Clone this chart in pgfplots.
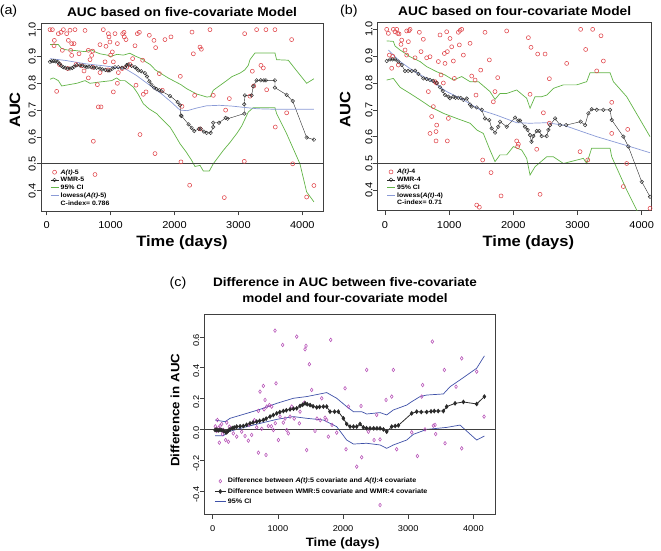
\documentclass[border=0pt]{standalone}
\usepackage{fontspec}
\setmainfont{Liberation Sans}[FakeStretch=1.1]
\usepackage{pgfplots}
\pgfplotsset{compat=1.18}
\definecolor{ptred}{HTML}{E0474C}
\definecolor{cigreen}{HTML}{62B447}
\definecolor{lowblue}{HTML}{8A9AD6}
\definecolor{dmag}{HTML}{B650B6}
\definecolor{ciblue}{HTML}{3F51A8}
\definecolor{frm}{HTML}{404040}
\definecolor{wmr}{HTML}{2A2A2A}
\pgfplotsset{
  rstyle/.style={
    scale only axis, clip=true,
    axis line style={frm, line width=0.7pt},
    tick style={frm, line width=0.6pt},
    tick align=outside, major tick length=4.5pt,
    xtick pos=left, ytick pos=left,
    /pgf/number format/assume math mode=true,
    /pgf/number format/set thousands separator={},
    yticklabel style={rotate=90, anchor=south, inner sep=0.5pt,
      /pgf/number format/fixed, /pgf/number format/fixed zerofill, /pgf/number format/precision=1},
    xticklabel style={anchor=north, inner sep=0pt, yshift=-6pt},
    legend cell align=left,
    legend image code/.code={\draw[mark repeat=2,mark phase=2] plot coordinates {(0pt,0pt)(4pt,0pt)(8pt,0pt)};},
  },
  aucstyle/.style={
    rstyle, width=282pt, height=188pt,
    xmin=-89, xmax=4324, ymin=0.324, ymax=1.0248,
    xtick={0,1000,2000,3000,4000},
    ytick={0.4,0.5,0.6,0.7,0.8,0.9,1.0},
    ticklabel style={font=\fontsize{10}{12}\selectfont},
    title style={at={(0.5,1)}, anchor=center, yshift=5.2pt, font=\fontsize{12.5}{14}\selectfont\bfseries},
    label style={font=\fontsize{15}{17}\selectfont\bfseries},
    xlabel={Time (days)}, ylabel={AUC},
    xlabel style={at={(axis description cs:0.5,-0.170)}, anchor=center},
    ylabel style={at={(axis description cs:-0.0922,0.537)}, anchor=center},
    legend style={at={(axis description cs:0.032,0.228)}, anchor=north west, draw=none, fill=none,
      inner sep=0pt, row sep=0pt, column sep=1pt, font=\fontsize{6.3}{7}\selectfont\bfseries,
      nodes={inner sep=0.8pt, text height=4.9pt, text depth=1.3pt}},
  },
}
\begin{document}
\begin{tikzpicture}
\useasboundingbox (0pt,0pt) rectangle (661pt,551pt);
\node[font=\fontsize{13}{15}\selectfont] at (8.5pt,540pt) {(a)};
\node[font=\fontsize{13}{15}\selectfont] at (348.8pt,540pt) {(b)};
\node[font=\fontsize{13}{15}\selectfont] at (178pt,268pt) {(c)};
% ---------------- (a)
\begin{axis}[aucstyle, at={(41pt,340pt)}, anchor=south west,
  title={AUC based on five-covariate Model}]
\addplot[only marks, mark=o, ptred, mark size=2pt, mark options={line width=0.55pt}] coordinates {
(52,1.00)(89,1.00)(120,0.96)(115,0.94)(156,0.77)(183,0.985)(224,0.99)(261,1.0)(245,0.923)(313,0.985)(339,0.96)(365,0.998)(375,0.923)(391,0.948)(428,0.948)(443,1.0)(506,0.91)(391,0.904)(600,0.997)(584,0.846)(652,0.923)(652,0.82)(678,0.888)(704,0.904)(720,0.92)(730,0.584)(756,0.46)(793,0.795)(808,0.712)(850,0.712)(834,0.944)(834,0.84)(886,1.0)(913,0.88)(928,0.938)(965,0.985)(975,0.973)(990,0.954)(1043,0.88)(1043,0.768)(1027,0.917)(1069,0.985)(1106,0.948)(1121,0.84)(1106,0.8)(1189,0.985)(1210,0.99)(1215,0.973)(1241,0.963)(1252,0.86)(1304,0.87)(1345,0.892)(1382,0.94)(1398,0.793)(1419,0.985)(1450,0.99)(1460,0.609)(1502,0.886)(1512,0.759)(1554,0.768)(1606,0.979)(1679,0.96)(1695,0.538)(1705,0.933)(1763,0.836)(1810,0.774)(1851,0.963)(1945,0.973)(2091,0.826)(2101,0.507)(2117,0.714)(2237,0.42)(2274,0.991)(2295,0.91)(2315,0.755)(2399,0.935)(2420,0.927)(2555,1.0)(2607,0.755)(2779,0.374)(2800,0.7)(2858,0.743)(3098,0.985)(3092,0.509)(3181,0.752)(3218,0.845)(3285,1.0)(3353,0.867)(3390,0.857)(3431,1.0)(3442,0.776)(3572,1.0)(3577,0.637)(3755,0.69)(3833,0.963)(3849,0.5)(4068,0.376)(4182,0.419)
(200,0.87)(330,0.855)(460,0.87)(550,0.865)(720,0.86)(960,0.85)(1000,0.905)(1180,0.855)(2400,0.63)(3240,0.79)};
\addlegendentry{\textit{A(t)}-5}
\addplot[wmr, line width=0.4pt, mark=o, mark size=1.8pt, mark options={line width=0.45pt}] coordinates {
(52,0.88)(80,0.882)(110,0.883)(140,0.882)(170,0.88)(200,0.873)(230,0.865)(260,0.86)(290,0.858)(330,0.855)(365,0.855)(400,0.857)(430,0.862)(470,0.867)(520,0.867)(560,0.866)(600,0.863)(625,0.86)(660,0.862)(700,0.86)(740,0.858)(780,0.858)(834,0.855)(870,0.852)(920,0.85)(960,0.848)(990,0.848)(1030,0.855)(1069,0.86)(1120,0.86)(1180,0.858)(1225,0.86)(1250,0.868)(1277,0.87)(1330,0.865)(1382,0.86)(1410,0.855)(1434,0.848)(1480,0.845)(1538,0.838)(1570,0.825)(1606,0.807)(1640,0.795)(1680,0.784)(1720,0.778)(1763,0.774)(1800,0.77)(1930,0.753)(2050,0.73)(2086,0.718)(2100,0.68)(2110,0.678)(2221,0.647)(2268,0.634)(2310,0.622)(2380,0.63)(2410,0.631)(2460,0.62)(2503,0.615)(2566,0.615)(2607,0.637)(2607,0.653)(2696,0.653)(2800,0.671)(2832,0.668)(3092,0.687)(3092,0.722)(3103,0.755)(3207,0.755)(3233,0.789)(3285,0.811)(3350,0.811)(3400,0.811)(3431,0.811)(3572,0.811)(3572,0.784)(3755,0.757)(3849,0.734)(4068,0.598)(4182,0.59)};
\addlegendentry{WMR-5}
\addplot[cigreen, line width=0.7pt] coordinates {
(52,0.945)(180,0.945)(230,0.93)(300,0.925)(450,0.922)(600,0.918)(700,0.925)(750,0.918)(834,0.91)(950,0.905)(1000,0.9)(1100,0.908)(1200,0.905)(1300,0.912)(1400,0.9)(1500,0.89)(1550,0.88)(1620,0.87)(1700,0.85)(1800,0.835)(1900,0.82)(1980,0.81)(2100,0.795)(2190,0.78)(2347,0.76)(2420,0.755)(2503,0.749)(2560,0.75)(2607,0.774)(2700,0.79)(2816,0.81)(2900,0.825)(3025,0.838)(3100,0.85)(3155,0.867)(3181,0.888)(3259,0.913)(3572,0.913)(3598,0.888)(3781,0.886)(3900,0.85)(4068,0.8)(4182,0.817)};
\addlegendentry{95\% CI}
\addplot[cigreen, line width=0.7pt, forget plot] coordinates {
(52,0.815)(104,0.82)(183,0.81)(235,0.79)(350,0.795)(470,0.8)(600,0.81)(678,0.8)(834,0.805)(1017,0.81)(1095,0.82)(1150,0.81)(1225,0.81)(1356,0.786)(1430,0.76)(1512,0.724)(1600,0.705)(1721,0.687)(1830,0.66)(1930,0.637)(2000,0.61)(2086,0.575)(2180,0.545)(2268,0.513)(2320,0.49)(2400,0.494)(2451,0.473)(2545,0.473)(2607,0.5)(2764,0.55)(2870,0.58)(2972,0.612)(3050,0.64)(3155,0.693)(3233,0.709)(3572,0.709)(3598,0.687)(3755,0.612)(3870,0.55)(3963,0.5)(4068,0.395)(4182,0.358)};
\addplot[lowblue, line width=0.7pt] coordinates {
(52,0.892)(300,0.885)(600,0.873)(900,0.865)(1225,0.855)(1400,0.83)(1600,0.795)(1800,0.76)(1950,0.73)(2086,0.7)(2200,0.698)(2350,0.708)(2500,0.716)(2700,0.718)(2900,0.715)(3100,0.71)(3300,0.705)(3600,0.703)(4182,0.703)};
\addlegendentry{lowess(\textit{A(t)}-5)}
\addlegendimage{empty legend}
\addlegendentry{C-index= 0.786}
\addplot[frm, line width=0.7pt, forget plot] coordinates {(-200,0.5)(4500,0.5)};
\end{axis}
% ---------------- (b)
\begin{axis}[aucstyle, at={(377.7pt,340.3pt)}, anchor=south west, width=274pt,
  xmin=-114, xmax=4156,
  title={AUC based on four-covariate Model},
  ylabel style={at={(axis description cs:-0.119,0.537)}},
  xlabel style={at={(axis description cs:0.55,-0.170)}}]
\addplot[only marks, mark=o, ptred, mark size=2pt, mark options={line width=0.55pt}] coordinates {
(26,1.0)(52,0.985)(68,0.904)(104,0.855)(130,1.0)(156,0.991)(182,1.0)(197,0.985)(218,0.983)(249,0.944)(260,0.96)(208,0.867)(312,0.923)(338,0.904)(338,0.994)(374,0.995)(390,1.0)(364,0.954)(468,0.894)(535,0.989)(561,0.917)(597,0.963)(649,0.894)(701,0.898)(675,0.768)(701,0.612)(727,0.675)(753,0.712)(805,0.643)(795,0.619)(795,0.584)(831,0.88)(857,0.979)(873,0.83)(909,0.8)(925,0.91)(935,0.873)(961,0.991)(971,0.917)(987,0.668)(971,0.584)(1013,0.966)(1039,0.935)(1065,0.882)(1081,0.817)(1143,0.989)(1158,0.942)(1169,0.996)(1195,1.0)(1221,0.904)(1325,0.948)(1351,0.826)(1403,0.811)(1418,0.755)(1429,0.345)(1470,0.337)(1491,0.848)(1522,0.513)(1558,0.989)(1626,0.886)(1652,0.466)(1688,0.73)(1714,0.768)(1756,0.82)(1808,0.379)(1896,0.994)(2052,0.584)(2067,0.563)(2078,0.572)(2234,0.969)(2260,0.758)(2275,0.933)(2364,0.553)(2379,0.908)(2416,0.385)(2468,0.689)(2494,0.908)(2561,0.816)(2561,0.65)(2831,0.873)(3039,0.544)(3049,1.0)(3127,0.925)(3159,0.513)(3236,1.0)(3299,0.845)(3366,0.976)(3403,0.882)(3533,0.612)(3533,0.728)(3714,0.414)(3782,0.627)(3766,0.5)(4130,0.333)
(780,0.805)(800,0.8)(120,0.9)};
\addlegendentry{\textit{A(t)}-4}
\addplot[wmr, line width=0.4pt, mark=o, mark size=1.8pt, mark options={line width=0.45pt}] coordinates {
(26,0.882)(78,0.888)(120,0.888)(156,0.888)(208,0.88)(260,0.867)(312,0.845)(360,0.845)(416,0.845)(468,0.846)(520,0.834)(597,0.817)(650,0.815)(701,0.811)(750,0.808)(805,0.8)(857,0.784)(900,0.77)(935,0.755)(987,0.749)(1013,0.743)(1065,0.749)(1100,0.745)(1143,0.745)(1179,0.744)(1221,0.737)(1273,0.742)(1325,0.72)(1351,0.712)(1429,0.709)(1507,0.7)(1558,0.668)(1626,0.662)(1662,0.631)(1714,0.615)(1766,0.637)(1792,0.656)(1896,0.637)(2026,0.671)(2078,0.66)(2104,0.66)(2182,0.637)(2223,0.625)(2260,0.606)(2281,0.581)(2312,0.602)(2364,0.621)(2405,0.621)(2442,0.602)(2520,0.602)(2546,0.625)(2572,0.643)(2650,0.668)(2727,0.643)(2821,0.643)(3049,0.656)(3117,0.643)(3169,0.687)(3221,0.702)(3299,0.7)(3403,0.7)(3507,0.7)(3533,0.662)(3714,0.6)(3792,0.563)(4000,0.432)(4130,0.376)};
\addlegendentry{WMR-4}
\addplot[cigreen, line width=0.7pt] coordinates {
(26,0.957)(130,0.955)(156,0.938)(234,0.923)(390,0.898)(546,0.88)(649,0.861)(805,0.842)(935,0.83)(1065,0.811)(1195,0.824)(1325,0.805)(1455,0.805)(1636,0.768)(1714,0.739)(1792,0.761)(1896,0.761)(2052,0.774)(2208,0.743)(2260,0.706)(2338,0.749)(2442,0.749)(2520,0.755)(2624,0.78)(2779,0.793)(2987,0.793)(3143,0.805)(3195,0.838)(3507,0.838)(3559,0.805)(3766,0.749)(4130,0.6)};
\addlegendentry{95\% CI}
\addplot[cigreen, line width=0.7pt, forget plot] coordinates {
(26,0.811)(130,0.817)(234,0.784)(390,0.761)(546,0.737)(701,0.712)(909,0.687)(1117,0.668)(1325,0.65)(1429,0.625)(1532,0.612)(1636,0.55)(1714,0.507)(1792,0.532)(1896,0.532)(2000,0.563)(2130,0.55)(2208,0.519)(2260,0.457)(2338,0.488)(2520,0.525)(2624,0.525)(2779,0.5)(3091,0.519)(3143,0.5)(3221,0.557)(3507,0.557)(3533,0.525)(3766,0.401)(3948,0.314)};
\addplot[lowblue, line width=0.7pt] coordinates {
(52,0.923)(234,0.88)(442,0.845)(701,0.811)(961,0.768)(1221,0.737)(1481,0.7)(1740,0.68)(2052,0.652)(2260,0.65)(2520,0.652)(2779,0.643)(3299,0.6)(3818,0.563)(4130,0.54)};
\addlegendentry{lowess(\textit{A(t)}-4)}
\addlegendimage{empty legend}
\addlegendentry{C-index= 0.71}
\addplot[frm, line width=0.7pt, forget plot] coordinates {(-200,0.5)(4500,0.5)};
\end{axis}
% ---------------- (c)
\begin{axis}[rstyle, at={(204.3pt,36.7pt)}, anchor=south west, width=290.7pt, height=200pt,
  xmin=-129, xmax=4332, ymin=-0.551, ymax=0.747,
  xtick={0,1000,2000,3000,4000},
  ytick={-0.4,-0.2,0,0.2,0.4,0.6},
  ticklabel style={font=\fontsize{8.4}{10}\selectfont},
  xticklabel style={yshift=-1pt},
  yticklabel style={xshift=-3.5pt},
  title={Difference in AUC between five-covariate\\model and four-covariate model},
  title style={at={(0.484,1)}, anchor=center, yshift=18.3pt, align=center, font=\fontsize{12.3}{15.6}\selectfont\bfseries},
  label style={font=\fontsize{12.1}{14}\selectfont\bfseries},
  xlabel={Time (days)}, ylabel={Difference in AUC},
  xlabel style={at={(axis description cs:0.476,-0.145)}, anchor=center},
  ylabel style={at={(axis description cs:-0.101,0.52)}, anchor=center},
  legend style={at={(axis description cs:0.034,0.186)}, anchor=north west, draw=none, fill=none,
      inner sep=0pt, row sep=2.5pt, column sep=1pt, font=\fontsize{6.5}{7}\selectfont\bfseries,
      nodes={inner sep=0.8pt, text height=4.9pt, text depth=1.3pt}},
  legend image code/.code={\draw[mark repeat=2,mark phase=2] plot coordinates {(0pt,0pt)(5.5pt,0pt)(11pt,0pt)};},
  ]
\addplot[only marks, mark=diamond, dmag, mark size=1.8pt, mark options={line width=0.55pt}] coordinates {
(72,0.061)(113,0.022)(138,0.035)(102,-0.086)(164,-0.004)(199,-0.069)(215,0.044)(256,0.018)(317,-0.026)(368,-0.047)(445,-0.015)(496,-0.043)(547,-0.073)(598,-0.036)(675,0.013)(701,-0.151)(726,0.245)(752,0.004)(777,0.282)(788,0.130)(803,0.191)(818,-0.166)(829,0.148)(854,0.022)(870,0.158)(905,0.148)(931,-0.004)(956,0.641)(972,0.299)(1008,-0.069)(1033,0.083)(1074,0.548)(1084,0.044)(1136,-0.004)(1161,-0.026)(1187,0.083)(1212,0.148)(1289,0.602)(1330,0.039)(1340,0.115)(1417,0.520)(1432,0.542)(1442,-0.134)(1407,0.174)(1483,0.423)(1519,0.256)(1570,-0.010)(1673,0.202)(1724,0.076)(1749,0.061)(1775,-0.047)(1811,0.581)(1831,0.029)(1903,-0.021)(2031,0.267)(2046,-0.129)(2082,0.148)(2210,-0.242)(2286,-0.181)(2276,0.152)(2363,0.386)(2389,-0.015)(2476,-0.069)(2517,0.094)(2568,-0.065)(2568,-0.491)(2660,0.191)(2747,0.213)(2772,0.386)(2823,-0.129)(3054,-0.019)(3141,-0.173)(3207,0.213)(3222,0.288)(3258,0.0)(3371,0.570)(3386,0.024)(3412,0.029)(3422,-0.030)(3555,0.386)(3565,-0.090)(3734,0.277)(3821,0.461)(3821,-0.123)(4051,0.375)(4164,0.083)
(40,0.02)(60,-0.01)(90,0.01)(150,-0.03)(240,-0.08)(560,0.03)(640,0.06)(700,0.12)(900,0.02)(960,0.04)(1110,0.07)(1250,0.07)(1600,0.07)(1650,0.06)};
\addlegendentry{Difference between \textit{A(t)}:5 covariate and \textit{A(t)}:4 covariate}
\addplot[wmr, line width=0.8pt, mark=diamond*, mark size=1.8pt] coordinates {
(36,-0.004)(60,-0.002)(85,-0.006)(112,-0.004)(140,-0.005)(170,-0.01)(200,-0.019)(215,-0.019)(240,-0.008)(266,0.0)(300,0.008)(330,0.012)(368,0.018)(420,0.02)(470,0.022)(520,0.03)(573,0.039)(620,0.045)(675,0.05)(720,0.055)(777,0.061)(820,0.07)(880,0.083)(930,0.093)(982,0.104)(1030,0.112)(1084,0.119)(1130,0.124)(1187,0.13)(1240,0.134)(1289,0.137)(1340,0.152)(1380,0.16)(1417,0.169)(1450,0.163)(1494,0.158)(1540,0.15)(1596,0.143)(1640,0.146)(1698,0.148)(1749,0.148)(1800,0.115)(1870,0.115)(1928,0.115)(2005,0.072)(2056,0.035)(2107,0.018)(2160,0.018)(2210,0.018)(2261,0.035)(2312,0.013)(2360,0.008)(2414,0.007)(2470,0.007)(2520,0.007)(2568,0.007)(2620,0.0)(2670,-0.015)(2747,0.018)(2800,0.022)(2849,0.026)(3054,0.104)(3130,0.115)(3200,0.113)(3284,0.113)(3350,0.117)(3400,0.119)(3460,0.119)(3540,0.119)(3591,0.148)(3719,0.169)(3847,0.178)(4051,0.165)(4169,0.213)};
\addlegendentry{Difference between WMR:5 covariate and WMR:4 covariate}
\addplot[ciblue, line width=0.7pt] coordinates {
(36,0.061)(189,0.050)(266,0.072)(522,0.104)(726,0.130)(982,0.169)(1238,0.202)(1442,0.213)(1749,0.239)(1903,0.202)(2056,0.148)(2159,0.115)(2286,0.115)(2363,0.100)(2568,0.109)(2670,0.094)(2772,0.126)(2977,0.158)(3054,0.180)(3182,0.213)(3284,0.223)(3540,0.230)(3642,0.277)(3795,0.321)(4051,0.397)(4169,0.477)};
\addlegendentry{95\% CI}
\addplot[ciblue, line width=0.7pt, forget plot] coordinates {
(36,-0.041)(164,-0.041)(240,-0.015)(522,0.018)(726,0.039)(982,0.065)(1238,0.083)(1442,0.072)(1698,0.061)(1903,0.018)(2056,-0.069)(2159,-0.095)(2363,-0.090)(2568,-0.101)(2670,-0.123)(2772,-0.101)(2977,-0.069)(3079,-0.032)(3284,0.0)(3591,0.013)(3795,0.028)(4051,-0.069)(4169,-0.043)};
\addplot[frm, line width=0.7pt, forget plot] coordinates {(-300,0)(4500,0)};
\end{axis}
\end{tikzpicture}
\end{document}
